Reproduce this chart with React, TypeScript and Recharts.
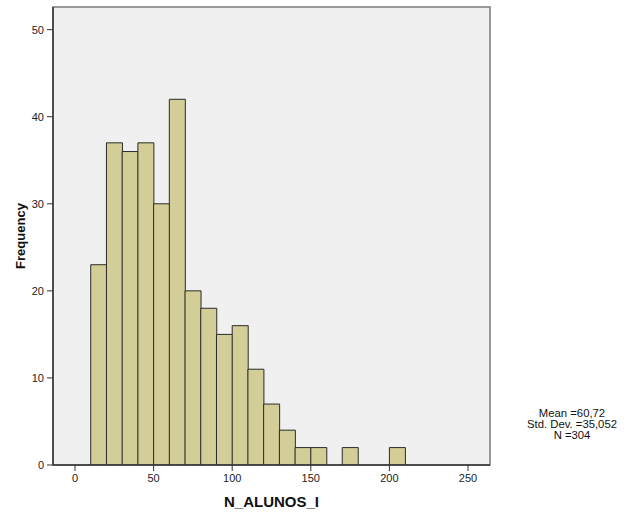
import { BarChart, Bar, XAxis, YAxis, CartesianGrid, ReferenceArea } from 'recharts';

// bin centres (width 10) and counts
const binMids = [15, 25, 35, 45, 55, 65, 75, 85, 95, 105, 115, 125, 135, 145, 155, 165, 175, 185, 195, 205];
const counts = [23, 37, 36, 37, 30, 42, 20, 18, 15, 16, 11, 7, 4, 2, 2, 0, 2, 0, 0, 2];
const xTicks = [0, 50, 100, 150, 200, 250];
const yTicks = [0, 10, 20, 30, 40, 50];
const statLines = ['Mean =60,72', 'Std. Dev. =35,052', 'N =304'];

const data = binMids.map((mid, i) => ({ mid, count: counts[i] }));

const font = '"Liberation Sans", Arial, sans-serif';
const tickStyle = { fill: '#222', fontSize: 11, fontFamily: font };

export default function App() {
  return (
    <div style={{ position: 'absolute', left: 0, top: 0, width: 633, height: 514, background: '#fff' }}>
      <BarChart
        width={633}
        height={514}
        data={data}
        margin={{ top: 7, right: 143, left: 0, bottom: 0 }}
        barCategoryGap={0}
        barGap={0}
      >
        <CartesianGrid horizontal={false} vertical={false} fill="#F0F0F0" />
        <ReferenceArea x1={-14} x2={264} y1={0} y2={52.6} fill="none" stroke="#7a7a7a" strokeWidth={1.5} ifOverflow="visible" />
        <XAxis
          type="number"
          dataKey="mid"
          domain={[-14, 264]}
          ticks={xTicks}
          allowDataOverflow
          height={49}
          tickSize={6}
          tickMargin={3}
          tick={tickStyle}
          axisLine={{ stroke: '#333', strokeWidth: 1.5 }}
          tickLine={{ stroke: '#333' }}
          label={{ value: 'N_ALUNOS_I', position: 'insideBottom', offset: 7, fill: '#111', fontSize: 15, fontWeight: 'bold', fontFamily: font }}
        />
        <YAxis
          type="number"
          domain={[0, 52.6]}
          ticks={yTicks}
          allowDataOverflow
          width={53}
          tickSize={6}
          tickMargin={3}
          tick={tickStyle}
          axisLine={{ stroke: '#333', strokeWidth: 1.5 }}
          tickLine={{ stroke: '#333' }}
          label={{ value: 'Frequency', angle: -90, position: 'insideLeft', offset: 20, fill: '#111', fontSize: 13, fontWeight: 'bold', fontFamily: font, style: { textAnchor: 'middle' } }}
        />
        <Bar dataKey="count" fill="#D3CE98" stroke="#2a2a2a" strokeWidth={1} isAnimationActive={false} />
      </BarChart>
      <div
        style={{
          position: 'absolute',
          left: 512,
          top: 408,
          width: 120,
          textAlign: 'center',
          fontFamily: font,
          fontSize: 11.3,
          lineHeight: '11px',
          color: '#111',
        }}
      >
        {statLines.map((s) => (
          <div key={s}>{s}</div>
        ))}
      </div>
    </div>
  );
}
